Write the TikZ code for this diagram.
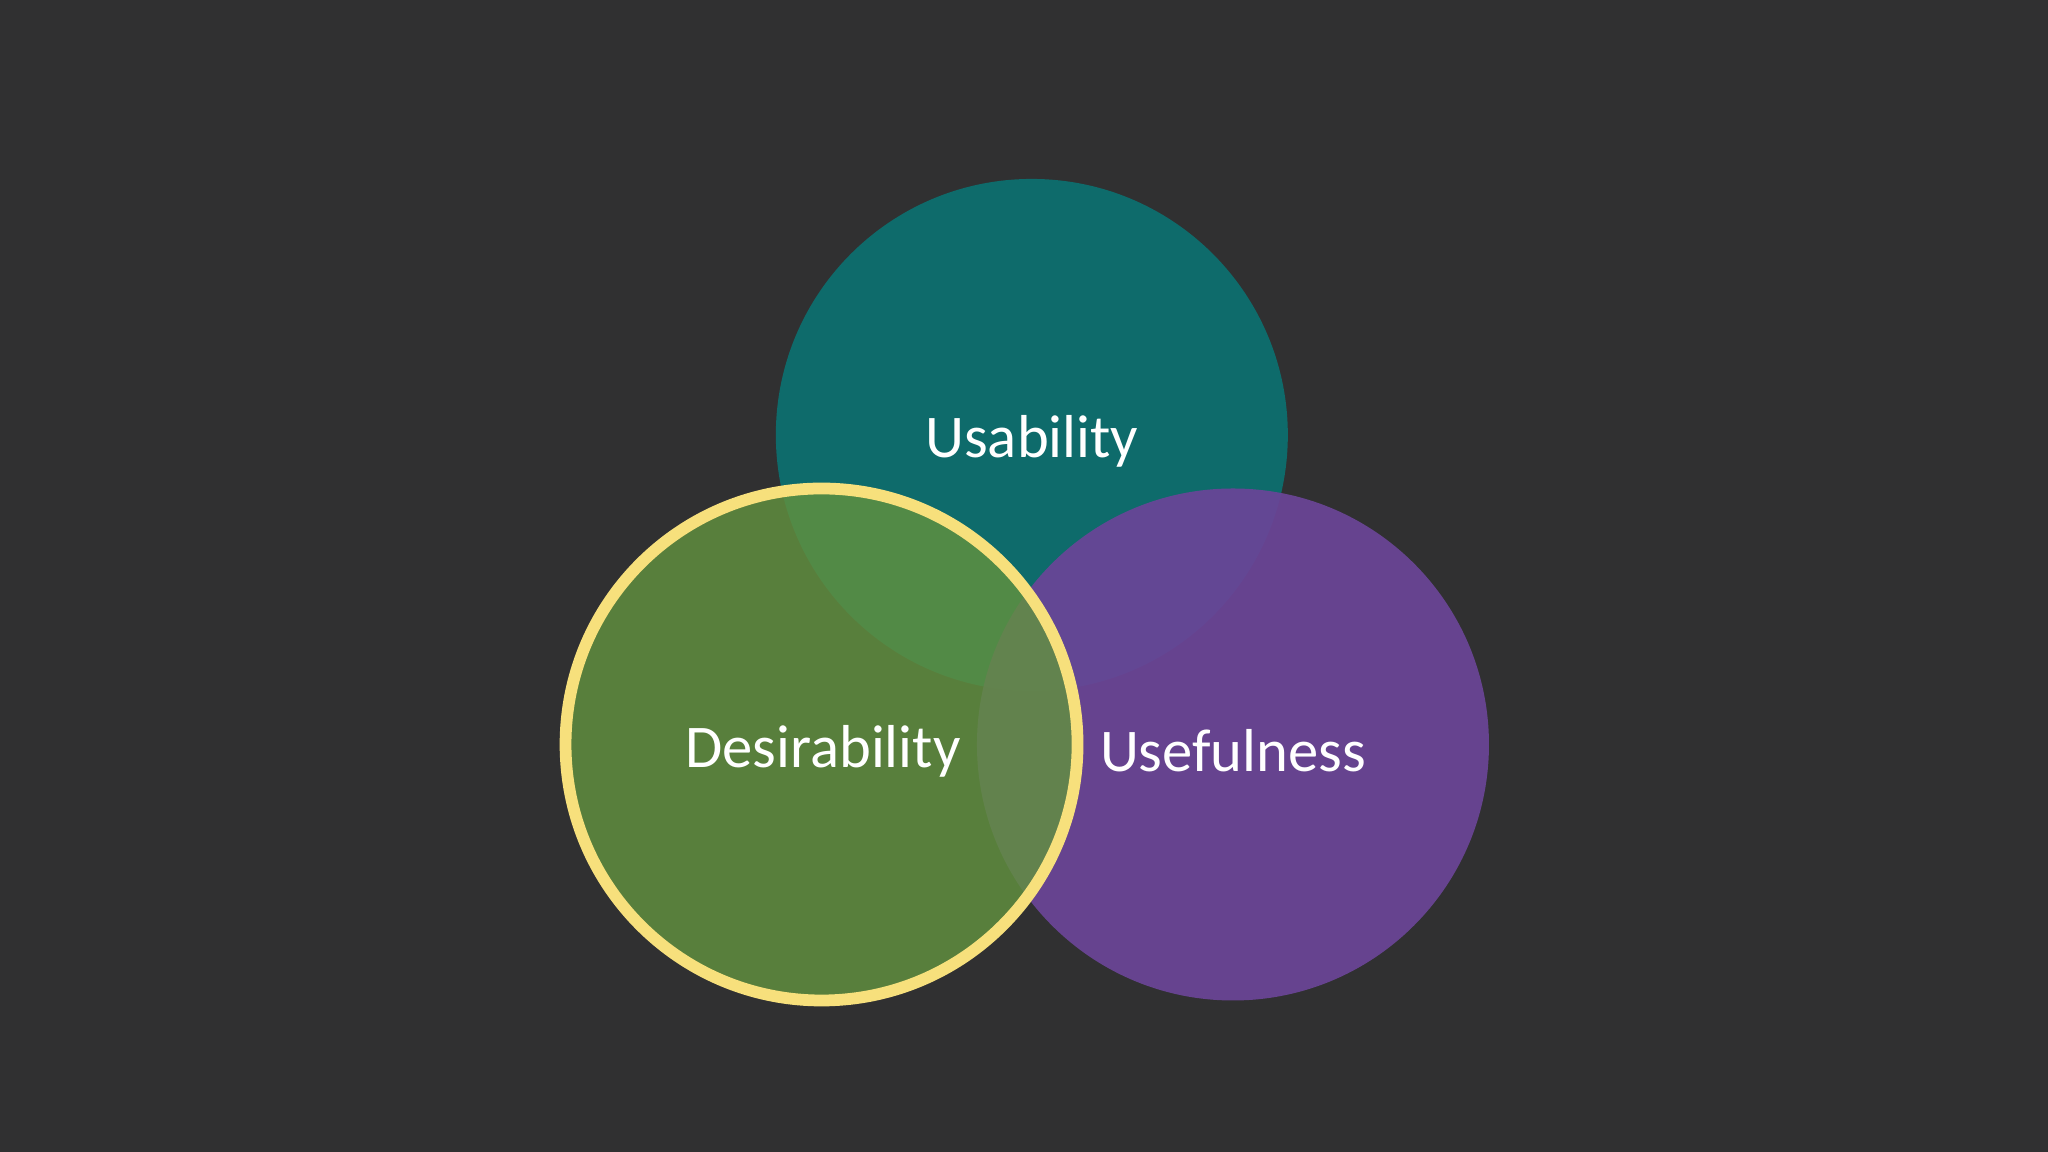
\documentclass[tikz,border=0pt]{standalone}
\usepackage{fontspec}
\setmainfont{Carlito}
\definecolor{bg}{HTML}{303031}
\definecolor{teal}{HTML}{0E6B6B}
\definecolor{purp}{HTML}{6B4598}
\definecolor{grn}{HTML}{62913F}
\definecolor{ring}{HTML}{F7E07C}
\tikzset{lbl/.style={text=white,font=\fontsize{13.2}{15}\selectfont}}
\begin{document}
\begin{tikzpicture}[x=0.01cm,y=-0.01cm]
\fill[bg] (0,0) rectangle (1568,882);
\fill[teal] (790,333) circle (196);
\fill[purp,opacity=0.92] (944,570) circle (196);
\fill[grn,opacity=0.82] (629,570) circle (196);
\draw[ring,line width=0.09cm] (629,570) circle (196);
\node[lbl] (u) at (790,338) {Usability};
\node[lbl] (d) at (630,575) {Desirability};
\node[lbl] (f) at (944,575) {Usefulness};
\end{tikzpicture}
\end{document}
